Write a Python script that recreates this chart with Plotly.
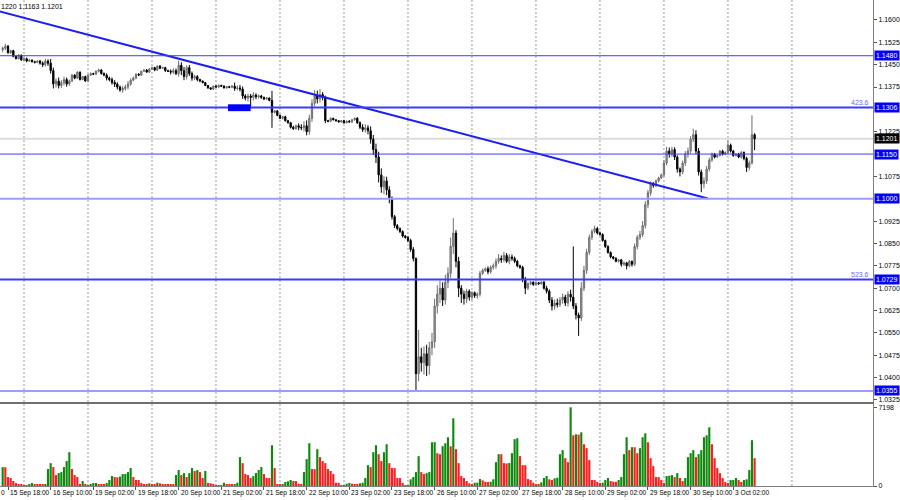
import plotly.graph_objects as go

# GBPUSD H1, bar index 0 = 15 Sep 18:00 (weekends skipped), prices in pips (x 1e-4)
first_open = 11500
closes = [
    11505, 11512, 11490, 11497, 11478, 11470, 11482, 11466, 11470, 11462, 11465, 11460,
    11458, 11462, 11455, 11450, 11462, 11455, 11430, 11385, 11395, 11380,
    11390, 11400, 11385, 11395, 11415, 11405, 11425, 11400, 11410, 11395,
    11415, 11420, 11418, 11428, 11432, 11420, 11415, 11405, 11400, 11390,
    11385, 11375, 11365, 11370, 11375, 11385, 11398, 11405, 11418, 11415,
    11428, 11432, 11425, 11435, 11440, 11432, 11445, 11438, 11440, 11430,
    11428, 11425, 11430, 11420, 11448, 11430, 11410, 11440, 11420, 11405,
    11410, 11400, 11395, 11390, 11380, 11372, 11368, 11378, 11375, 11380,
    11378, 11372, 11376, 11374, 11378, 11370, 11372, 11368, 11345, 11338,
    11345, 11340, 11348, 11342, 11345, 11340, 11335, 11338, 11330, 11290,
    11295, 11280, 11270, 11275, 11262, 11255, 11240, 11235, 11245, 11240,
    11238, 11245, 11225, 11270, 11320, 11345, 11335, 11350, 11340, 11262,
    11260, 11270, 11265, 11262, 11258, 11262, 11255, 11260, 11258, 11265,
    11270, 11255, 11240, 11232, 11238, 11228, 11200, 11165, 11140, 11080,
    11040, 11060, 11030, 11000, 10940, 10910, 10900, 10890, 10875, 10870,
    10860, 10830, 10800, 10413, 10470, 10450, 10480, 10440, 10500, 10520,
    10640, 10680, 10700, 10660, 10720, 10750, 10840, 10885, 10790, 10700,
    10680, 10665, 10690, 10670, 10685, 10675, 10680, 10750, 10760, 10765,
    10755, 10770, 10775, 10790, 10800, 10795, 10810, 10790, 10805, 10800,
    10790, 10775, 10770, 10730, 10700, 10715, 10720, 10712, 10718, 10715,
    10720, 10700, 10690, 10660, 10640, 10650, 10645, 10660, 10670, 10650,
    10680, 10670, 10640, 10610, 10600, 10700, 10760, 10820, 10870, 10890,
    10900, 10885, 10880, 10860, 10840, 10820, 10805, 10800, 10790, 10795,
    10780, 10785, 10775, 10790, 10780, 10840, 10870, 10880, 10910, 10980,
    11020, 11050, 11045, 11060, 11070, 11080, 11120, 11160, 11150, 11165,
    11140, 11100, 11090, 11120, 11150, 11160, 11200, 11215, 11160, 11090,
    11050, 11060, 11100, 11130, 11150, 11140, 11145, 11160, 11150, 11155,
    11180, 11160, 11145, 11150, 11140, 11155, 11135, 11105, 11120, 11215, 11201,
]
# upper / lower wick lengths in pips
wick_up = [
    6, 8, 4, 3, 3, 2, 2, 2, 3, 4, 4, 3,
    3, 3, 4, 6, 8, 6, 14, 10, 9, 12,
    8, 10, 7, 5, 4, 3, 3, 2, 2, 3,
    3, 4, 3, 3, 5, 3, 4, 6, 5, 7,
    8, 6, 5, 9, 8, 10, 6, 5, 3, 3,
    2, 2, 3, 3, 4, 3, 3, 4, 3, 3,
    3, 6, 8, 7, 15, 10, 12, 8, 9, 7,
    6, 5, 3, 2, 2, 2, 3, 2, 3, 4,
    3, 3, 2, 3, 4, 12, 8, 10, 9, 6,
    8, 7, 10, 6, 5, 4, 3, 3, 2, 32,
    3, 2, 3, 3, 4, 3, 3, 5, 4, 8,
    10, 15, 18, 12, 14, 19, 18, 18, 8, 6,
    3, 3, 2, 2, 2, 2, 3, 3, 4, 3,
    3, 4, 5, 10, 12, 9, 15, 14, 20, 18,
    22, 16, 14, 12, 8, 6, 5, 4, 4, 3,
    5, 6, 8, 3, 90, 30, 25, 30, 20, 30,
    25, 30, 25, 20, 25, 20, 30, 50, 10, 15,
    10, 12, 8, 6, 5, 4, 6, 8, 6, 5,
    8, 6, 8, 10, 15, 10, 12, 8, 10, 8,
    6, 5, 4, 5, 8, 5, 4, 3, 4, 3,
    4, 5, 8, 6, 10, 12, 15, 10, 12, 8,
    10, 15, 170, 10, 8, 20, 15, 12, 10, 8,
    10, 6, 5, 4, 3, 4, 3, 3, 4, 3,
    3, 4, 3, 5, 3, 10, 8, 12, 15, 12,
    10, 8, 6, 5, 4, 5, 10, 15, 12, 10,
    8, 6, 5, 8, 10, 12, 10, 20, 15, 10,
    8, 12, 10, 8, 5, 4, 3, 4, 5, 4,
    15, 5, 4, 3, 4, 5, 4, 6, 8, 65, 5,
]
wick_dn = [
    8, 6, 3, 4, 3, 2, 2, 3, 3, 4, 3, 3,
    4, 3, 5, 8, 6, 9, 10, 15, 12, 10,
    8, 10, 9, 6, 3, 4, 3, 3, 2, 2,
    4, 3, 3, 3, 4, 3, 4, 8, 6, 7,
    10, 8, 6, 9, 7, 8, 6, 4, 4, 3,
    3, 2, 2, 3, 3, 4, 3, 3, 3, 4,
    3, 8, 6, 5, 10, 15, 12, 10, 8, 9,
    7, 6, 4, 3, 2, 3, 2, 3, 2, 3,
    3, 2, 3, 3, 3, 8, 6, 8, 10, 8,
    12, 30, 10, 8, 6, 5, 4, 3, 3, 52,
    4, 3, 3, 4, 3, 3, 4, 4, 3, 10,
    8, 12, 12, 10, 12, 10, 15, 12, 10, 8,
    3, 3, 2, 3, 2, 3, 3, 2, 3, 4,
    3, 4, 6, 8, 10, 12, 15, 18, 20, 25,
    20, 25, 18, 15, 10, 8, 6, 5, 5, 4,
    6, 8, 10, 58, 25, 30, 40, 35, 30, 25,
    20, 25, 30, 20, 15, 20, 15, 25, 20, 30,
    30, 20, 15, 12, 10, 8, 10, 8, 6, 5,
    8, 6, 8, 10, 8, 10, 8, 6, 10, 8,
    6, 5, 5, 10, 20, 6, 5, 4, 3, 4,
    3, 5, 8, 10, 15, 12, 10, 8, 12, 10,
    12, 15, 10, 15, 60, 10, 10, 12, 8, 8,
    6, 5, 4, 4, 5, 4, 5, 4, 3, 4,
    8, 5, 12, 5, 8, 6, 10, 8, 8, 10,
    12, 10, 8, 6, 5, 4, 6, 8, 12, 10,
    10, 12, 15, 8, 10, 12, 8, 10, 10, 12,
    28, 15, 10, 8, 6, 5, 4, 3, 5, 4,
    6, 5, 4, 3, 4, 5, 6, 15, 10, 5, 38,
]
volumes = [
    1730, 1720, 820, 730, 455, 270, 180, 120, 90, 85, 95, 270,
    180, 155, 120, 118, 180, 1550, 2090, 1730, 1000, 1180,
    1270, 1730, 2280, 3090, 1550, 1000, 820, 180, 450, 180,
    90, 180, 270, 275, 180, 155, 120, 270, 550, 910,
    820, 790, 860, 1090, 1095, 1270, 1640, 820, 550, 545,
    270, 155, 150, 245, 120, 115, 300, 245, 180, 175,
    170, 118, 115, 1000, 1460, 1000, 1180, 820, 1180, 1640,
    1370, 1460, 1270, 730, 1370, 270, 245, 120, 90, 85,
    80, 300, 180, 175, 155, 180, 300, 2640, 2090, 1090,
    1000, 730, 910, 1180, 1460, 1730, 1090, 730, 725, 3730,
    1640, 180, 120, 180, 365, 430, 550, 455, 450, 210,
    155, 1270, 2460, 3910, 1550, 1545, 3370, 2640, 2280, 2090,
    1550, 1370, 1090, 300, 295, 65, 60, 210, 275, 210,
    180, 175, 245, 300, 730, 1910, 1730, 3090, 3730, 2910,
    2280, 3090, 3820, 2090, 1640, 1635, 730, 725, 300, 90,
    85, 610, 820, 1270, 2730, 1270, 1090, 1180, 1275, 4000,
    4010, 3000, 2910, 3640, 3910, 4460, 3640, 6190, 3370, 2090,
    910, 730, 455, 245, 155, 300, 310, 640, 520, 390,
    365, 390, 610, 2180, 2910, 2905, 2090, 2065, 2100, 3000,
    4280, 4370, 2730, 1910, 1905, 640, 545, 300, 155, 150,
    335, 730, 910, 610, 545, 700, 755, 2910, 3280, 2550,
    2180, 7198, 4640, 4730, 4700, 4910, 3820, 3460, 2370, 550,
    545, 365, 275, 300, 545, 730, 455, 390, 385, 545,
    820, 2910, 4460, 3280, 3550, 3545, 3000, 3460, 4460, 4820,
    4000, 2550, 1820, 820, 815, 545, 275, 910, 940, 1000,
    820, 1180, 730, 455, 730, 2640, 3000, 3280, 2640, 2910,
    3280, 4460, 4640, 5370, 3820, 2550, 1640, 1180, 730, 365,
    275, 545, 550, 730, 545, 365, 545, 610, 1460, 4190, 2550,
]
bar_index = list(range(-2, 281))
assert len(closes) == len(wick_up) == len(wick_dn) == len(volumes) == len(bar_index)

time_labels = ["15 Sep 18:00", "16 Sep 10:00", "19 Sep 02:00", "19 Sep 18:00", "20 Sep 10:00",
               "21 Sep 02:00", "21 Sep 18:00", "22 Sep 10:00", "23 Sep 02:00", "23 Sep 18:00",
               "26 Sep 10:00", "27 Sep 02:00", "27 Sep 18:00", "28 Sep 10:00", "29 Sep 02:00",
               "29 Sep 18:00", "30 Sep 10:00", "3 Oct 02:00"]
label_index = [0, 16, 32, 48, 64, 80, 96, 112, 128, 144, 160, 176, 192, 208, 224, 240, 256, 272]
day_start_index = [6, 30, 54, 78, 102, 126, 150, 174, 198, 222, 246, 270, 294]

# scale labels not hidden behind the level tags
price_ticks = [1.0325, 1.0400, 1.0475, 1.0550, 1.0625, 1.0700, 1.0775, 1.0850, 1.0925,
               1.1075, 1.1225, 1.1375, 1.1450, 1.1525, 1.1600]
# horizontal levels: price, width, colour
levels = [(1.1480, 1, "#3b3bff"), (1.1306, 2, "#3b3bff"), (1.1150, 1, "#3b3bff"),
          (1.1000, 2, "#9c9cff"), (1.0729, 2, "#3b3bff"), (1.0355, 2, "#9c9cff")]
level_tags = {1.1306: "423.6", 1.0729: "523.6"}
last_price = 1.1201
trend_index = [-5, 262.5]
trend_price = [1.1633, 1.1001]
box_index = [82.5, 91]
box_price = [1.1294, 1.1317]
header = "1220 1.1163 1.1201"

opens = [first_open] + closes[:-1]
o = [v / 10000 for v in opens]
c = [v / 10000 for v in closes]
h = [(max(a, b) + u) / 10000 for a, b, u in zip(opens, closes, wick_up)]
l = [(min(a, b) - d) / 10000 for a, b, d in zip(opens, closes, wick_dn)]
vol_colors = ["#ff1c1c" if i > 0 and volumes[i] <= volumes[i - 1] else "#0b8a0b"
              for i in range(len(volumes))]

FONT = "Liberation Sans"
SMALL = 6.6   # time scale
AXIS = 7      # price scale and tags

fig = go.Figure()
fig.add_trace(go.Candlestick(
    x=bar_index, open=o, high=h, low=l, close=c,
    increasing=dict(line=dict(color="#6e6e6e", width=1), fillcolor="#a8a8a8"),
    decreasing=dict(line=dict(color="#000000", width=1), fillcolor="#000000"),
    whiskerwidth=0, hoverinfo="skip", showlegend=False,
    xaxis="x", yaxis="y",
))
fig.add_trace(go.Bar(
    x=bar_index, y=volumes, marker=dict(color=vol_colors, line=dict(width=0)),
    width=0.8, showlegend=False, hoverinfo="skip", xaxis="x2", yaxis="y2",
))
fig.add_trace(go.Scatter(
    x=trend_index, y=trend_price, mode="lines", line=dict(color="#1e1ef0", width=2),
    showlegend=False, hoverinfo="skip", xaxis="x", yaxis="y", cliponaxis=True,
))

shapes = []
for d in day_start_index:
    shapes.append(dict(type="line", xref="x", yref="paper", x0=d, x1=d, y0=0, y1=1,
                       line=dict(color="#9a9a9a", width=1, dash="2px,2px"), layer="below"))
shapes.append(dict(type="line", xref="paper", yref="y", x0=0, x1=1, y0=last_price, y1=last_price,
                   line=dict(color="#dcdcdc", width=2), layer="below"))
for p, w, col in levels:
    shapes.append(dict(type="line", xref="paper", yref="y", x0=0, x1=1, y0=p, y1=p,
                       line=dict(color=col, width=w)))
shapes.append(dict(type="rect", xref="x", yref="y", x0=box_index[0], x1=box_index[1],
                   y0=box_price[0], y1=box_price[1], fillcolor="#0000ff",
                   line=dict(width=0)))

annotations = []
for p, w, col in levels:
    annotations.append(dict(xref="paper", yref="y", x=1, y=p, xanchor="left", xshift=1,
                            text=f"{p:.4f}", showarrow=False, bgcolor="#0000ff",
                            font=dict(family=FONT, size=AXIS, color="white"), borderpad=1))
for p, tag in level_tags.items():
    annotations.append(dict(xref="paper", yref="y", x=1, y=p, xanchor="right", yanchor="bottom",
                            xshift=-2, text=tag, showarrow=False,
                            font=dict(family=FONT, size=AXIS, color="#6b6bff")))
annotations.append(dict(xref="paper", yref="y", x=1, y=last_price, xanchor="left", xshift=1,
                        text=f"{last_price:.4f}", showarrow=False, bgcolor="#000000",
                        font=dict(family=FONT, size=AXIS, color="white"), borderpad=1))
for idx, lab in zip(label_index, time_labels):
    annotations.append(dict(xref="x2", yref="paper", x=idx, y=0, xanchor="left", yanchor="top",
                            xshift=0, yshift=-1, text=lab, showarrow=False,
                            font=dict(family=FONT, size=SMALL, color="black")))
annotations.append(dict(xref="paper", yref="paper", x=0, y=0, xanchor="left", yanchor="top",
                        xshift=-1, yshift=-1, text="0", showarrow=False,
                        font=dict(family=FONT, size=SMALL, color="black")))
annotations.append(dict(xref="paper", yref="paper", x=0, y=1, xanchor="left", yanchor="top",
                        xshift=-1, yshift=-1, text=header, showarrow=False,
                        font=dict(family=FONT, size=AXIS, color="black")))

fig.update_layout(
    width=900, height=500,
    margin=dict(l=0, r=27, t=0, b=14),
    paper_bgcolor="white", plot_bgcolor="white",
    font=dict(family=FONT, size=AXIS, color="black"),
    showlegend=False,
    shapes=shapes, annotations=annotations,
    xaxis=dict(domain=[0, 1], range=[-3, 324.4], rangeslider=dict(visible=False),
               showgrid=False, zeroline=False, showticklabels=False, ticks="",
               showline=True, linecolor="#6e6e6e", linewidth=2, anchor="y"),
    yaxis=dict(domain=[0.1728, 1], range=[1.0318, 1.1667], side="right", anchor="x",
               tickvals=price_ticks, ticktext=[f"{t:.4f}" for t in price_ticks],
               ticks="outside", ticklen=3, tickcolor="#555555",
               showgrid=False, zeroline=False, showline=True, linecolor="#808080", linewidth=1),
    xaxis2=dict(domain=[0, 1], range=[-3, 324.4], anchor="y2", matches="x",
                showgrid=False, zeroline=False, showticklabels=False,
                tickvals=label_index, ticks="outside", ticklen=3, tickcolor="#555555",
                showline=True, linecolor="#808080", linewidth=1),
    yaxis2=dict(domain=[0, 0.1687], range=[0, 7500], side="right", anchor="x2",
                tickvals=[0, 7198], ticktext=["0", "7198"], ticks="outside", ticklen=3,
                tickcolor="#555555", showgrid=False, zeroline=False,
                showline=True, linecolor="#808080", linewidth=1),
)

# the page's default 8px body margin would shift the chart off the 900x500 window
fig.write_html("out.html", config={"displayModeBar": False},
               post_script="document.body.style.margin='0px';")
